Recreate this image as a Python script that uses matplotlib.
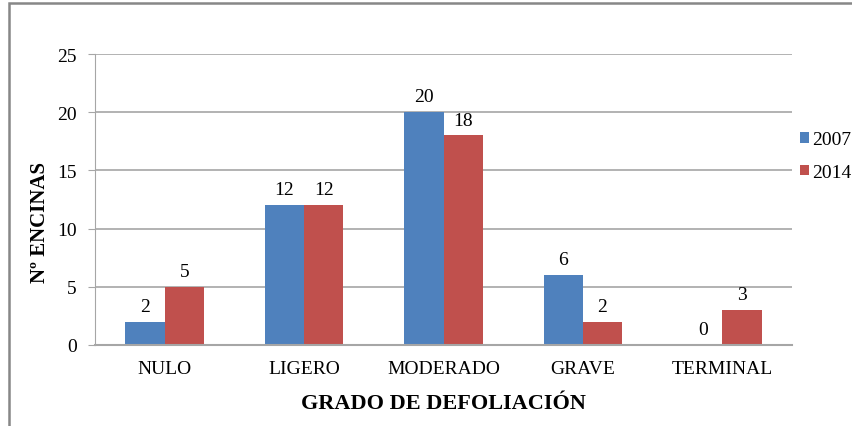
import numpy as np
import matplotlib
matplotlib.use('Agg')
import matplotlib.pyplot as plt
from matplotlib.patches import Rectangle

# Data
categorias = ['NULO', 'LIGERO', 'MODERADO', 'GRAVE', 'TERMINAL']
valores_2007 = [2, 12, 20, 6, 0]
valores_2014 = [5, 12, 18, 2, 3]
series = ['2007', '2014']

plt.rcParams['font.family'] = ['Liberation Serif', 'DejaVu Serif']

fig = plt.figure(figsize=(8.52, 4.27), dpi=100)
ax = fig.add_axes([95/852, 1 - 346/427, 697/852, 291/427])

x = np.arange(len(categorias))
w = 0.282
b1 = ax.bar(x - w/2, valores_2007, w, color='#4F81BD', label=series[0])
b2 = ax.bar(x + w/2, valores_2014, w, color='#C0504D', label=series[1])

for bars in (b1, b2):
    for rect in bars:
        h = rect.get_height()
        ax.annotate(str(int(h)), (rect.get_x() + rect.get_width()/2, h),
                    xytext=(0, 5), textcoords='offset points',
                    ha='center', va='bottom', fontsize=14)

ax.set_xlim(-0.5, len(categorias) - 0.5)
ax.set_ylim(0, 25)
ax.set_yticks(range(0, 26, 5))
ax.set_xticks(x)
ax.set_xticklabels(categorias, fontsize=14)
ax.tick_params(axis='y', labelsize=14, length=5, color='#A6A6A6', pad=8)
ax.tick_params(axis='x', length=0, pad=11)
ax.yaxis.grid(True, color='#A6A6A6', linewidth=1.2)
ax.set_axisbelow(True)
for s in ['top', 'right']:
    ax.spines[s].set_visible(False)
ax.spines['left'].set_color('#A6A6A6')
ax.spines['bottom'].set_color('#A6A6A6')
ax.spines['bottom'].set_linewidth(1.5)

ax.set_ylabel('Nº ENCINAS', fontsize=15, fontweight='bold', labelpad=5)
ax.yaxis.label.set_y(0.425)
ax.set_xlabel('GRADO DE DEFOLIACIÓN', fontsize=16, fontweight='bold', labelpad=11)

ax.legend(loc='center left', bbox_to_anchor=(800/852, 1 - 157/427),
          bbox_transform=fig.transFigure, frameon=False, fontsize=14,
          handlelength=0.45, handleheight=0.45, handletextpad=0.15,
          labelspacing=0.8, borderaxespad=0, borderpad=0)

# outer chart border
fig.patches.append(Rectangle((9/852, -0.1), 1.2, 0.1 + 1 - 4/427,
                             transform=fig.transFigure, fill=False,
                             edgecolor='#878787', linewidth=1.8))

fig.savefig('out.png', dpi=100)
